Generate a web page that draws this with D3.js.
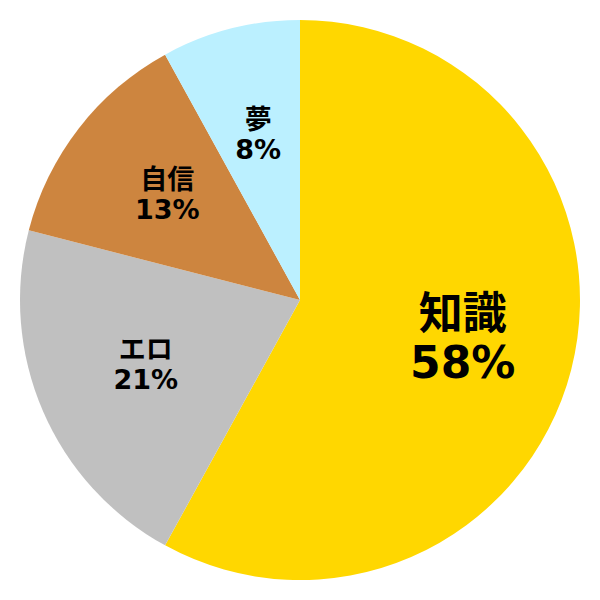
<!DOCTYPE html>
<html>
<head>
<meta charset="utf-8">
<script src="https://cdn.jsdelivr.net/npm/d3@7"></script>
<style>
  body { margin: 0; background: #fff; }
  text { font-family: "DejaVu Sans", "Noto Sans CJK JP", sans-serif; font-weight: bold; }
</style>
</head>
<body>
<svg id="pie" width="600" height="600"></svg>
<script>
var labels = ["知識", "エロ", "自信", "夢"];
var values = [58, 21, 13, 8];
var colors = ["#ffd700", "#c0c0c0", "#cd853f", "#bbf0ff"];
var fontSizes = [44, 27, 27, 27];

var svg = d3.select("#pie");
var width = 600, height = 600;
var radius = 280;

var g = svg.append("g")
  .attr("transform", "translate(" + width / 2 + "," + height / 2 + ")");

var pie = d3.pie().sort(null).value(function(d) { return d; });
var arcs = pie(values);

var arc = d3.arc().innerRadius(0).outerRadius(radius);
var labelArc = d3.arc().innerRadius(radius * 0.6).outerRadius(radius * 0.6);

g.selectAll("path")
  .data(arcs)
  .enter().append("path")
  .attr("d", arc)
  .attr("fill", function(d, i) { return colors[i]; });

var label = g.selectAll("text.label")
  .data(arcs)
  .enter().append("text")
  .attr("class", "label")
  .attr("text-anchor", "middle")
  .attr("font-size", function(d, i) { return fontSizes[i]; })
  .attr("transform", function(d) { return "translate(" + labelArc.centroid(d) + ")"; });

label.append("tspan")
  .attr("x", 0)
  .attr("dy", "-0.3em")
  .text(function(d, i) { return labels[i]; });

label.append("tspan")
  .attr("x", 0)
  .attr("dy", "1.12em")
  .text(function(d, i) { return values[i] + "%"; });
</script>
</body>
</html>
